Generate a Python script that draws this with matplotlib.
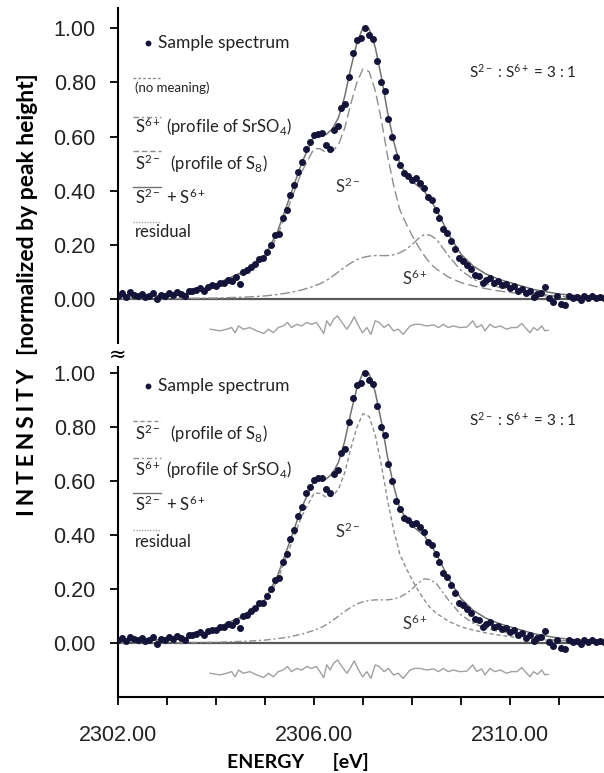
import numpy as np
import matplotlib
matplotlib.use("Agg")
import matplotlib.pyplot as plt

plt.rcParams['font.family'] = ['Lato', 'DejaVu Sans']
plt.rcParams['mathtext.fontset'] = 'custom'
plt.rcParams['mathtext.rm'] = 'Lato'
plt.rcParams['mathtext.it'] = 'Lato:italic'
plt.rcParams['mathtext.bf'] = 'Lato:bold'
plt.rcParams['mathtext.default'] = 'regular'

# measured spectrum, sampled every 0.08 eV from 2302.00 eV
e_start = 2302.0
e_step = 0.08
spectrum = [
    0.012, 0.020, 0.008, 0.024, 0.015, 0.010, 0.018, 0.006, 0.012, 0.021,
    -0.002, 0.014, 0.010, 0.022, 0.016, 0.025, 0.018, 0.012, 0.030, 0.028,
    0.034, 0.040, 0.028, 0.045, 0.050, 0.048, 0.060, 0.058, 0.070, 0.066,
    0.080, 0.055, 0.100, 0.105, 0.118, 0.130, 0.148, 0.150, 0.175, 0.200,
    0.235, 0.240, 0.300, 0.330, 0.385, 0.420, 0.470, 0.505, 0.555, 0.580,
    0.605, 0.610, 0.612, 0.570, 0.555, 0.625, 0.640, 0.705, 0.720, 0.820,
    0.910, 0.955, 0.965, 1.000, 0.975, 0.960, 0.880, 0.800, 0.770, 0.665,
    0.600, 0.525, 0.495, 0.465, 0.455, 0.440, 0.445, 0.430, 0.410, 0.375,
    0.365, 0.330, 0.300, 0.260, 0.245, 0.215, 0.185, 0.150, 0.140, 0.125,
    0.110, 0.090, 0.085, 0.060, 0.070, 0.078, 0.060, 0.065, 0.052, 0.055,
    0.042, 0.048, 0.030, 0.038, 0.020, 0.030, 0.008, 0.018, 0.022, 0.045,
    0.005, -0.010, 0.012, -0.018, -0.022, 0.010, 0.002, 0.008, -0.005, 0.012,
    0.004, 0.010, 0.002, 0.008, 0.003,
]
energy = e_start + e_step * np.arange(len(spectrum))

# fitted components (S8 and SrSO4 reference profiles)
fit_energy = [
    2302.0, 2302.5, 2303.0, 2303.5, 2304.0, 2304.5, 2304.75, 2305.0, 2305.25,
    2305.5, 2305.75, 2306.0, 2306.125, 2306.25, 2306.375, 2306.5, 2306.625,
    2306.75, 2306.875, 2307.0, 2307.125, 2307.25, 2307.375, 2307.5, 2307.625,
    2307.75, 2307.875, 2308.0, 2308.125, 2308.25, 2308.375, 2308.5, 2308.75,
    2309.0, 2309.25, 2309.5, 2309.75, 2310.0, 2310.5, 2311.0, 2311.5, 2312.0,
]
s2_profile = [
    0.008, 0.009, 0.012, 0.020, 0.052, 0.090, 0.120, 0.150, 0.230,
    0.350, 0.470, 0.555, 0.555, 0.540, 0.545, 0.570, 0.630,
    0.720, 0.800, 0.850, 0.840, 0.770, 0.660, 0.530, 0.420,
    0.330, 0.280, 0.235, 0.195, 0.160, 0.130, 0.110, 0.080,
    0.060, 0.048, 0.038, 0.030, 0.024, 0.014, 0.008, 0.005, 0.003,
]
s6_profile = [
    0.000, 0.000, 0.001, 0.002, 0.003, 0.006, 0.008, 0.011, 0.016,
    0.023, 0.033, 0.047, 0.056, 0.068, 0.083, 0.100, 0.117,
    0.132, 0.145, 0.153, 0.158, 0.160, 0.160, 0.160, 0.163,
    0.170, 0.183, 0.200, 0.222, 0.238, 0.235, 0.220, 0.158,
    0.105, 0.073, 0.055, 0.044, 0.036, 0.020, 0.010, 0.005, 0.003,
]
fit_sum = np.array(s2_profile) + np.array(s6_profile)

# residual of the fit, drawn shifted below the baseline
res_energy = [
    2303.88, 2304.08, 2304.22, 2304.32, 2304.39, 2304.46, 2304.56, 2304.69,
    2304.83, 2304.97, 2305.07, 2305.17, 2305.27, 2305.37, 2305.46, 2305.54,
    2305.65, 2305.75, 2305.85, 2305.95, 2306.05, 2306.12, 2306.20, 2306.26,
    2306.33, 2306.40, 2306.48, 2306.57, 2306.67, 2306.74, 2306.82, 2306.91,
    2306.99, 2307.08, 2307.16, 2307.25, 2307.33, 2307.43, 2307.52, 2307.62,
    2307.72, 2307.82, 2307.96, 2308.06, 2308.16, 2308.30, 2308.44, 2308.54,
    2308.64, 2308.74, 2308.84, 2308.98, 2309.12, 2309.24, 2309.32, 2309.42,
    2309.49, 2309.59, 2309.69, 2309.80, 2309.93, 2310.03, 2310.14, 2310.24,
    2310.34, 2310.41, 2310.48, 2310.56, 2310.65, 2310.71, 2310.78,
]
residual = [
    -0.006, -0.012, -0.006, 0.000, -0.019, 0.006, -0.006, 0.000,
    -0.012, -0.022, -0.006, -0.019, 0.000, 0.006, 0.019, 0.000,
    0.012, 0.006, 0.019, 0.012, 0.019, 0.000, -0.022, 0.025,
    0.006, 0.031, 0.043, 0.019, -0.006, 0.012, 0.040, 0.006,
    -0.019, 0.000, -0.025, 0.025, 0.019, 0.000, 0.012, -0.012,
    -0.006, -0.025, 0.006, 0.012, 0.012, 0.006, 0.010, 0.000,
    0.012, 0.000, 0.006, 0.000, 0.002, 0.025, 0.000, 0.010,
    -0.012, 0.012, 0.000, 0.006, -0.006, 0.000, 0.000, 0.015,
    -0.006, -0.019, 0.000, -0.010, 0.006, -0.012, -0.010,
]
res_offset = -0.106

yticks = [0.0, 0.2, 0.4, 0.6, 0.8, 1.0]
xticks = [2302, 2303, 2304, 2305, 2306, 2307, 2308, 2309, 2310, 2311]
xlabels = ['2302.00', '', '', '', '2306.00', '', '', '', '2310.00', '']

dot_color = '#14143a'
line_gray = '#727272'
dash_gray = '#8e8e8e'
res_gray = '#a0a0a0'
tick_font = 'Liberation Sans'

fig = plt.figure(figsize=(6.04, 7.73), dpi=100)
ax1 = fig.add_axes([118 / 604, 1 - 353 / 773, 486 / 604, 345 / 773])
ax2 = fig.add_axes([118 / 604, 1 - 697 / 773, 486 / 604, 344 / 773])


def draw_panel(ax, s2_style, s6_style):
    ax.axhline(0, color='#5a5a5a', lw=1.6, zorder=1)
    ax.plot(fit_energy, s2_profile, color=dash_gray, lw=1.0, dashes=s2_style, zorder=2)
    ax.plot(fit_energy, s6_profile, color=dash_gray, lw=1.0, dashes=s6_style, zorder=2)
    ax.plot(fit_energy, fit_sum, color=line_gray, lw=1.1, zorder=3)
    ax.plot(energy, spectrum, 'o', color=dot_color, ms=4.0, zorder=4)
    ax.plot(res_energy, np.array(residual) + res_offset, color=res_gray, lw=1.0, zorder=2)
    ax.set_xlim(2302, 2302 + 486 / 49)
    ax.set_ylim(-0.2, 1.075)
    for side in ['top', 'right']:
        ax.spines[side].set_visible(False)
    ax.spines['left'].set_linewidth(1.5)
    ax.set_yticks(yticks)
    ax.set_yticklabels(['%.2f' % v for v in yticks], fontsize=15.5, family=tick_font,
                       color='#222222')
    ax.tick_params(axis='y', direction='out', length=6, width=1.3, pad=10)
    ax.text(2306.7, 0.39, 'S$^{2-}$', fontsize=12, color='#333333', ha='center')
    ax.text(2308.06, 0.05, 'S$^{6+}$', fontsize=12, color='#333333', ha='center')


def legend_entry(ax, y_line, y_text, label, style, size=12):
    kw = dict(color=dash_gray, lw=1.0)
    kw.update(style)
    ax.plot([0.031, 0.088], [y_line, y_line], transform=ax.transAxes, **kw)
    ax.text(0.035, y_text, label, transform=ax.transAxes, fontsize=size,
            color='#222222', va='center')


ratio_label = 'S$^{2-}$ : S$^{6+}$ = 3 : 1'

# upper panel
draw_panel(ax1, (7, 3), (7, 2, 2, 2))
ax1.spines['bottom'].set_visible(False)
ax1.set_xticks([])
ax1.plot([0.062], [0.899], 'o', color=dot_color, ms=3.2, transform=ax1.transAxes)
ax1.text(0.082, 0.899, 'Sample spectrum', transform=ax1.transAxes,
         fontsize=12.5, color='#222222', va='center')
legend_entry(ax1, 0.797, 0.768, '(no meaning)', dict(dashes=(2, 1.5)), size=9.5)
legend_entry(ax1, 0.684, 0.655, 'S$^{6+}$ (profile of SrSO$_4$)', dict(dashes=(4, 2, 1.5, 2)))
legend_entry(ax1, 0.586, 0.548, 'S$^{2-}$  (profile of S$_8$)', dict(dashes=(4, 2)))
legend_entry(ax1, 0.481, 0.452, 'S$^{2-}$ + S$^{6+}$', dict(color=line_gray))
legend_entry(ax1, 0.380, 0.351, 'residual', dict(dashes=(1, 1), color=res_gray))
ax1.text(0.722, 0.814, ratio_label, transform=ax1.transAxes,
         fontsize=11, color='#222222', va='center')

# lower panel
draw_panel(ax2, (3, 2), (5, 2, 1.5, 2))
ax2.spines['bottom'].set_linewidth(1.5)
ax2.set_xticks(xticks)
ax2.set_xticklabels(xlabels, fontsize=15.5, family=tick_font, color='#222222')
ax2.tick_params(axis='x', direction='out', length=6, width=1.3, pad=14)
ax2.plot([0.062], [0.904], 'o', color=dot_color, ms=3.2, transform=ax2.transAxes)
ax2.text(0.082, 0.904, 'Sample spectrum', transform=ax2.transAxes,
         fontsize=12.5, color='#222222', va='center')
legend_entry(ax2, 0.802, 0.765, 'S$^{2-}$  (profile of S$_8$)', dict(dashes=(3, 2)))
legend_entry(ax2, 0.695, 0.660, 'S$^{6+}$ (profile of SrSO$_4$)', dict(dashes=(4, 2, 1.5, 2)))
legend_entry(ax2, 0.593, 0.561, 'S$^{2-}$ + S$^{6+}$', dict(color=line_gray))
legend_entry(ax2, 0.485, 0.451, 'residual', dict(dashes=(1, 1), color=res_gray))
ax2.text(0.722, 0.805, ratio_label, transform=ax2.transAxes,
         fontsize=11, color='#222222', va='center')

# break mark on the shared intensity axis
fig.text(118 / 604, 1 - 355 / 773, '\u2248', fontsize=15, ha='center', va='center',
         family='DejaVu Sans', bbox=dict(facecolor='white', edgecolor='none', pad=0.5))

# axis titles
fig.text(28 / 604, 1 - 214 / 773, '[normalized by peak height]', rotation=90,
         fontsize=16.5, fontweight='bold', ha='center', va='center')
fig.text(28 / 604, 1 - 442 / 773, 'I\u2006N\u2006T\u2006E\u2006N\u2006S\u2006I\u2006T\u2006Y',
         rotation=90, fontsize=16.5, fontweight='bold', ha='center', va='center')
fig.text(298 / 604, 1 - 762 / 773, 'ENERGY      [eV]', fontsize=14,
         fontweight='bold', ha='center', va='center')

fig.savefig('out.png', dpi=100)
